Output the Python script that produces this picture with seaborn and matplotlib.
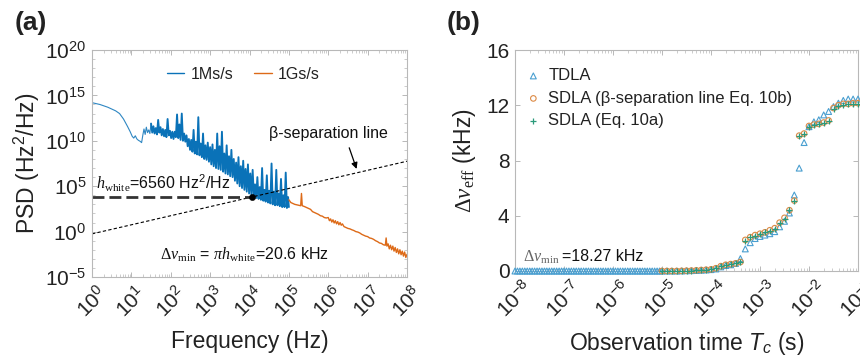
import numpy as np
import pandas as pd
import matplotlib
matplotlib.use("Agg")
import matplotlib.pyplot as plt
import seaborn as sns
from matplotlib.ticker import LogLocator, NullFormatter, FixedLocator

# ---------------- data: panel (a) PSD (log10 values) ----------------
blue_logf = [
    0.00, 0.10, 0.20, 0.30, 0.40, 0.50, 0.60, 0.70, 0.80, 0.90,
    0.97, 1.02, 1.06, 1.10, 1.14, 1.18, 1.22, 1.26, 1.29, 1.32,
    1.35, 1.38, 1.41, 1.44, 1.47, 1.50, 1.53, 1.56, 1.59, 1.62,
    1.65, 1.68, 1.71, 1.74, 1.77, 1.80, 1.83, 1.86, 1.89, 1.92,
    1.95, 1.98, 2.01, 2.04, 2.07, 2.10, 2.13, 2.16, 2.19, 2.22,
    2.25, 2.28, 2.31, 2.34, 2.37, 2.40, 2.43, 2.46, 2.49, 2.52,
    2.55, 2.58, 2.61, 2.64, 2.67, 2.70, 2.73, 2.76, 2.79, 2.82,
    2.85, 2.88, 2.91, 2.94, 2.97, 3.00, 3.03, 3.06, 3.09, 3.12,
    3.15, 3.18, 3.21, 3.24, 3.27, 3.30, 3.33, 3.36, 3.39, 3.42,
    3.45, 3.48, 3.51, 3.54, 3.57, 3.60, 3.63, 3.66, 3.69, 3.72,
    3.75, 3.78, 3.81, 3.84, 3.87, 3.90, 3.93, 3.96, 3.99, 4.02,
    4.05, 4.08, 4.11, 4.14, 4.17, 4.20, 4.23, 4.26, 4.29, 4.32,
    4.35, 4.38, 4.41, 4.44, 4.47, 4.50, 4.53, 4.56, 4.59, 4.62,
    4.65, 4.68, 4.71, 4.74, 4.77, 4.80, 4.83, 4.86, 4.89, 4.92,
    4.95, 4.98, 5.00,
]
blue_logpsd = [
    14.2, 14.1, 14.0, 13.85, 13.7, 13.5, 13.3, 13.0, 12.4, 11.6,
    11.0, 10.5, 10.3, 10.55, 10.2, 10.05, 9.95, 9.8, 10.6, 11.3,
    10.7, 11.5, 10.9, 11.2, 10.8, 11.9, 10.9, 11.6, 10.8, 11.4,
    10.7, 12.3, 10.9, 11.5, 10.6, 11.3, 10.5, 11.2, 10.4, 12.4,
    10.6, 11.1, 10.3, 11.0, 10.2, 11.0, 10.4, 12.9, 10.3, 11.8,
    10.1, 13.0, 10.0, 10.8, 9.9, 10.6, 9.4, 10.2, 9.0, 10.1,
    8.8, 11.2, 8.6, 9.9, 8.5, 12.6, 8.4, 9.7, 8.2, 10.8,
    8.0, 9.5, 7.9, 9.8, 7.7, 9.3, 7.4, 9.6, 7.2, 9.0,
    7.0, 10.8, 6.9, 9.4, 6.8, 11.0, 6.6, 8.6, 6.4, 9.5,
    6.3, 8.3, 6.1, 9.0, 6.0, 8.0, 5.6, 7.6, 5.3, 8.2,
    5.0, 7.2, 4.8, 7.8, 4.6, 6.9, 4.4, 7.4, 4.2, 6.4,
    4.0, 6.8, 3.9, 5.2, 3.7, 6.0, 3.6, 4.9, 3.5, 7.0,
    3.4, 4.6, 3.3, 6.2, 3.2, 4.5, 3.1, 7.5, 3.0, 4.4,
    2.9, 6.8, 2.9, 4.2, 2.8, 5.8, 2.7, 4.0, 2.7, 6.5,
    2.6, 3.8, 2.7,
]
orange_logf = [
    5.00, 5.05, 5.10, 5.15, 5.20, 5.25, 5.30, 5.32, 5.34, 5.40,
    5.45, 5.50, 5.55, 5.60, 5.65, 5.70, 5.75, 5.80, 5.85, 5.90,
    5.95, 6.00, 6.03, 6.06, 6.09, 6.12, 6.15, 6.18, 6.21, 6.24,
    6.27, 6.30, 6.33, 6.36, 6.40, 6.45, 6.50, 6.55, 6.60, 6.65,
    6.70, 6.75, 6.80, 6.85, 6.90, 6.95, 7.00, 7.05, 7.10, 7.15,
    7.20, 7.25, 7.30, 7.35, 7.40, 7.45, 7.47, 7.49, 7.52, 7.55,
    7.58, 7.61, 7.64, 7.67, 7.70, 7.73, 7.76, 7.79, 7.82, 7.85,
    7.88, 7.91, 7.94, 7.97, 8.00,
]
orange_logpsd = [
    3.5, 3.2, 3.1, 3.0, 2.95, 2.9, 2.85, 4.2, 2.85, 2.75,
    2.65, 2.55, 2.45, 2.2, 2.1, 2.0, 1.9, 1.75, 1.7, 1.55,
    1.5, 1.55, 1.2, 1.4, 1.05, 1.3, 0.95, 1.2, 0.85, 1.1,
    0.75, 1.0, 0.7, 0.85, 0.55, 0.45, 0.35, 0.3, 0.2, 0.12,
    0.0, -0.05, -0.15, -0.3, -0.4, -0.5, -0.55, -0.7, -0.75, -0.85,
    -1.0, -1.1, -1.25, -1.3, -1.45, -1.5, -0.7, -1.6, -1.35, -1.9,
    -1.5, -2.0, -1.6, -2.15, -1.75, -2.3, -1.9, -2.45, -2.0, -2.55,
    -2.15, -2.7, -2.25, -2.85, -2.5,
]
beta_f = [1.0, 1.0e8]
beta_psd = [0.562, 5.62e7]
white_f = [1.0, 1.17e4]
white_psd = [6560.0, 6560.0]

# ---------------- data: panel (b) linewidth vs observation time ----------------
tc_exp_flat = [
    -8.00, -7.95, -7.90, -7.85, -7.80, -7.75, -7.70, -7.65, -7.60, -7.55,
    -7.50, -7.45, -7.40, -7.35, -7.30, -7.25, -7.20, -7.15, -7.10, -7.05,
    -7.00, -6.95, -6.90, -6.85, -6.80, -6.75, -6.70, -6.65, -6.60, -6.55,
    -6.50, -6.45, -6.40, -6.35, -6.30, -6.25, -6.20, -6.15, -6.10, -6.05,
    -6.00, -5.95, -5.90, -5.85, -5.80, -5.75, -5.70, -5.65, -5.60, -5.55,
    -5.50, -5.45, -5.40, -5.35, -5.30, -5.25, -5.20, -5.15, -5.10, -5.05,
]
tdla_flat = [
    0.0, 0.0, 0.0, 0.0, 0.0, 0.0, 0.0, 0.0, 0.0, 0.0,
    0.0, 0.0, 0.0, 0.0, 0.0, 0.0, 0.0, 0.0, 0.0, 0.0,
    0.0, 0.0, 0.0, 0.0, 0.0, 0.0, 0.0, 0.0, 0.0, 0.0,
    0.0, 0.0, 0.0, 0.0, 0.0, 0.0, 0.0, 0.0, 0.0, 0.0,
    0.0, 0.0, 0.0, 0.0, 0.0, 0.0, 0.0, 0.0, 0.0, 0.0,
    0.0, 0.0, 0.0, 0.0, 0.0, 0.0, 0.0, 0.0, 0.0, 0.0,
]
tc_exp_main = [
    -5.0, -4.9, -4.8, -4.7, -4.6, -4.5, -4.4, -4.3, -4.2, -4.1,
    -4.0, -3.9, -3.8, -3.7, -3.6, -3.5, -3.4, -3.3, -3.2, -3.1,
    -3.0, -2.9, -2.8, -2.7, -2.6, -2.5, -2.4, -2.3, -2.2, -2.1,
    -2.0, -1.9, -1.8, -1.7, -1.6, -1.5, -1.4, -1.3, -1.2, -1.1,
    -1.0,
]
tdla_main = [
    0.0, 0.0, 0.0, 0.0, 0.01, 0.02, 0.03, 0.04, 0.06, 0.08,
    0.10, 0.15, 0.30, 0.40, 0.45, 0.55, 0.90, 1.60, 2.05, 2.35,
    2.50, 2.60, 2.70, 2.85, 3.20, 3.60, 4.20, 5.50, 7.45, 9.30,
    10.45, 10.80, 10.95, 11.30, 11.55, 11.90, 12.15, 12.35, 12.45, 12.45,
    12.45,
]
sdla_beta = [
    0.0, 0.0, 0.0, 0.0, 0.01, 0.02, 0.03, 0.05, 0.07, 0.09,
    0.12, 0.20, 0.35, 0.45, 0.50, 0.55, 0.65, 2.25, 2.45, 2.60,
    2.70, 2.80, 2.95, 3.10, 3.50, 3.85, 4.40, 5.10, 9.80, 9.95,
    10.50, 10.60, 10.65, 10.75, 10.90, 11.80, 12.00, 12.10, 12.10, 12.15,
    12.15,
]
sdla_10a = [
    0.0, 0.0, 0.0, 0.0, 0.01, 0.02, 0.03, 0.05, 0.07, 0.09,
    0.12, 0.20, 0.35, 0.45, 0.50, 0.55, 0.65, 2.20, 2.45, 2.55,
    2.70, 2.80, 2.90, 3.05, 3.50, 3.80, 4.40, 5.05, 9.75, 9.95,
    10.45, 10.60, 10.65, 10.75, 10.85, 11.75, 11.95, 12.05, 12.10, 12.10,
    12.10,
]

# ---------------- style ----------------
sns.set_theme(style="ticks")
plt.rcParams.update({
    "font.family": ["Liberation Sans", "DejaVu Sans"],
    "mathtext.fontset": "custom",
    "mathtext.rm": "Liberation Sans",
    "mathtext.it": "Liberation Sans:italic",
    "mathtext.bf": "Liberation Sans:bold",
    "mathtext.sf": "Liberation Sans",
    "mathtext.tt": "Liberation Serif",
    "mathtext.cal": "Liberation Serif:italic",
    "axes.edgecolor": "#b8b8b8",
    "axes.linewidth": 0.8,
    "xtick.color": "#b8b8b8",
    "ytick.color": "#b8b8b8",
    "xtick.labelcolor": "#222222",
    "ytick.labelcolor": "#222222",
    "axes.labelcolor": "#222222",
    "text.color": "#222222",
})

BLUE = "#0a72b8"
ORANGE = "#dd6a18"
C_TDLA = "#4a9fd0"
C_SB = "#dc8a45"
C_SA = "#2a9a7a"

fig = plt.figure(figsize=(8.6, 3.6), dpi=100)
axa = fig.add_axes([92 / 860, 83 / 360, 315 / 860, 227 / 360])
axb = fig.add_axes([515 / 860, 89 / 360, 343 / 860, 221 / 360])

# ---------------- panel (a) ----------------
axa.set_xscale("log")
axa.set_yscale("log")
df_blue = pd.DataFrame({"f": 10 ** np.array(blue_logf), "psd": 10 ** np.array(blue_logpsd)})
df_orange = pd.DataFrame({"f": 10 ** np.array(orange_logf), "psd": 10 ** np.array(orange_logpsd)})
split = 25  # thin smooth low-frequency part, then the dense noisy band
sns.lineplot(data=df_blue.iloc[:split + 1], x="f", y="psd", ax=axa, color=BLUE, lw=0.8,
             alpha=0.85, sort=False, estimator=None, label="1Ms/s")
sns.lineplot(data=df_blue.iloc[split:], x="f", y="psd", ax=axa, color=BLUE, lw=1.35,
             sort=False, estimator=None, legend=False)
sns.lineplot(data=df_orange, x="f", y="psd", ax=axa, color=ORANGE, lw=1.0,
             sort=False, estimator=None, label="1Gs/s")
sns.lineplot(x=beta_f, y=beta_psd, ax=axa, color="black", lw=0.8,
             linestyle=(0, (3, 2)), sort=False, estimator=None, legend=False)
sns.lineplot(x=white_f, y=white_psd, ax=axa, color="#333333", lw=2.0,
             linestyle=(0, (4.3, 1.8)), sort=False, estimator=None, legend=False)
sns.scatterplot(x=[white_f[1]], y=[white_psd[1]], ax=axa, color="black", s=20,
                edgecolor="black", zorder=5, legend=False)

axa.set_xlim(1, 1e8)
axa.set_ylim(1e-5, 1e20)
axa.set_xticks([10.0 ** k for k in range(0, 9)])
axa.xaxis.set_minor_locator(LogLocator(base=10, subs=np.arange(2, 10), numticks=100))
axa.xaxis.set_minor_formatter(NullFormatter())
axa.yaxis.set_major_locator(FixedLocator([1e-5, 1e0, 1e5, 1e10, 1e15, 1e20]))
axa.yaxis.set_minor_locator(LogLocator(base=10, subs=(1.0,), numticks=100))
axa.yaxis.set_minor_formatter(NullFormatter())
axa.tick_params(which="both", direction="in", top=True, right=True)
axa.tick_params(which="major", length=3.5, width=0.7, labelsize=15, pad=4)
axa.tick_params(which="minor", length=2, width=0.5)
axa.tick_params(axis="x", labelrotation=45)
axa.set_xlabel("Frequency (Hz)", fontsize=16.5, labelpad=6)
axa.set_ylabel("PSD (Hz$^2$/Hz)", fontsize=16.5, labelpad=2)

leg = axa.legend(loc="upper center", bbox_to_anchor=(0.48, 0.99), ncol=2, frameon=False,
                 fontsize=11.5, handlelength=1.1, columnspacing=1.3, handletextpad=0.4)
for ln in leg.get_lines():
    ln.set_linewidth(1.0)
    ln.set_alpha(1.0)

axa.text(1.3, 10 ** 4.62, r"$\mathcal{h}_{\mathtt{white}}$=6560 Hz$^2$/Hz",
         fontsize=11.5, ha="left", va="baseline", color="#111111")
axa.text(10 ** 3.86, 10 ** -3.1,
         r"$\mathtt{\Delta}\mathcal{\nu}_{\mathtt{min}}$ = $\mathcal{\pi h}_{\mathtt{white}}$=20.6 kHz",
         fontsize=11.5, ha="center", va="baseline", color="#111111")
axa.annotate("β-separation line", xy=(10 ** 6.72, 10 ** 6.9), xycoords="data",
             xytext=(0.752, 0.634), textcoords="axes fraction", fontsize=11.5,
             ha="center", va="center", color="#111111",
             arrowprops=dict(arrowstyle="-|>", color="black", lw=0.9,
                             mutation_scale=9, relpos=(0.65, 0.0), shrinkA=3, shrinkB=0))

# ---------------- panel (b) ----------------
axb.set_xscale("log")
t_flat = 10 ** np.array(tc_exp_flat)
t_main = 10 ** np.array(tc_exp_main)
t_tdla = np.concatenate([t_flat, t_main])
v_tdla = np.concatenate([tdla_flat, tdla_main])
sns.scatterplot(x=t_tdla, y=v_tdla, ax=axb, marker="^", s=18, facecolor="none",
                edgecolor=C_TDLA, linewidth=0.8, label="TDLA", clip_on=False, zorder=3)
sns.scatterplot(x=t_main, y=sdla_beta, ax=axb, marker="o", s=16, facecolor="none",
                edgecolor=C_SB, linewidth=0.8, label="SDLA (β-separation line Eq. 10b)",
                clip_on=False, zorder=4)
sns.scatterplot(x=t_main, y=sdla_10a, ax=axb, marker="+", s=18, color=C_SA,
                linewidth=0.9, label="SDLA (Eq. 10a)", clip_on=False, zorder=5)

axb.set_xlim(1e-8, 1e-1)
axb.set_ylim(0, 16)
axb.set_yticks([0, 4, 8, 12, 16])
axb.set_xticks([10.0 ** k for k in range(-8, 0)])
axb.xaxis.set_minor_locator(LogLocator(base=10, subs=np.arange(2, 10), numticks=100))
axb.xaxis.set_minor_formatter(NullFormatter())
axb.tick_params(which="both", direction="in", top=True, right=True)
axb.tick_params(which="major", length=3.5, width=0.7, labelsize=15, pad=4)
axb.tick_params(which="minor", length=2, width=0.5)
axb.tick_params(axis="x", labelrotation=45)
axb.set_xlabel("Observation time $T_c$ (s)", fontsize=16.5, labelpad=6)
axb.set_ylabel(r"$\mathtt{\Delta}\mathcal{\nu}_{\mathtt{eff}}$ (kHz)", fontsize=16.5, labelpad=6)

axb.legend(loc="upper left", bbox_to_anchor=(0.0, 0.97), frameon=False, fontsize=12,
           handlelength=0.8, handletextpad=0.5, labelspacing=0.45, borderaxespad=0.3)

axb.text(0.023, 0.045, r"$\mathtt{\Delta}\mathcal{\nu}_{\mathtt{min}}$", transform=axb.transAxes,
         fontsize=11.5, ha="left", va="baseline", color="#666666")
axb.text(0.137, 0.045, "=18.27 kHz", transform=axb.transAxes,
         fontsize=11.5, ha="left", va="baseline", color="#111111")

fig.text(15 / 860, 1 - 23 / 360, "(a)", fontsize=19, fontweight="bold", va="center", ha="left")
fig.text(447 / 860, 1 - 23 / 360, "(b)", fontsize=19, fontweight="bold", va="center", ha="left")

fig.savefig("out.png", dpi=100)
